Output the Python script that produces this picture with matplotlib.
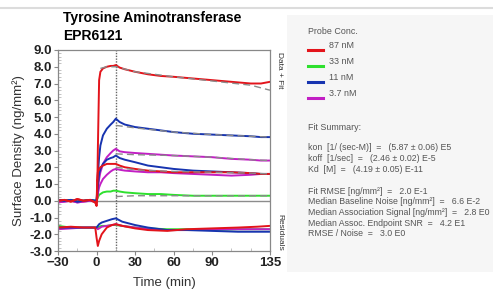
import matplotlib.pyplot as plt
from matplotlib.lines import Line2D
from matplotlib.patches import Rectangle
from matplotlib.ticker import MultipleLocator

plt.rcParams['font.family'] = ['Liberation Sans', 'DejaVu Sans']

# ---- data (time in min, surface density in ng/mm2)
t_base = [-30, -25, -20, -15, -10, -5, -1, 0]
t_run = [0.5, 1, 2, 3, 5, 8, 11, 13, 15, 18, 22, 30, 40, 50, 60, 75, 90, 105, 120, 128, 135]

red_hi = [0.2, 3.0, 7.2, 7.7, 7.9, 8.0, 8.05, 8.05, 8.1, 7.95, 7.85, 7.7, 7.55, 7.45, 7.4, 7.3, 7.2, 7.1, 7.0, 7.0, 7.1]
red_lo = [1.2, 1.7, 1.9, 2.0, 2.1, 2.2, 2.2, 2.2, 2.2, 2.1, 2.0, 1.9, 1.8, 1.75, 1.7, 1.7, 1.7, 1.7, 1.65, 1.6, 1.6]
blue_hi = [0.6, 1.5, 2.6, 3.3, 3.9, 4.3, 4.55, 4.7, 4.9, 4.7, 4.55, 4.4, 4.3, 4.2, 4.1, 4.0, 3.95, 3.9, 3.85, 3.8, 3.8]
blue_lo = [0.4, 0.9, 1.6, 1.9, 2.2, 2.45, 2.55, 2.6, 2.7, 2.55, 2.45, 2.3, 2.1, 2.0, 1.9, 1.8, 1.75, 1.7, 1.65, 1.6, 1.6]
mag_hi = [0.3, 0.7, 1.3, 1.7, 2.2, 2.6, 2.85, 3.0, 3.1, 2.95, 2.9, 2.85, 2.8, 2.75, 2.7, 2.65, 2.6, 2.5, 2.45, 2.4, 2.4]
mag_lo = [0.2, 0.4, 0.8, 1.0, 1.3, 1.55, 1.75, 1.85, 1.9, 1.85, 1.8, 1.75, 1.7, 1.7, 1.65, 1.6, 1.55, 1.5, 1.55, 1.6, 1.6]
green = [0.1, 0.2, 0.35, 0.4, 0.5, 0.55, 0.55, 0.6, 0.6, 0.55, 0.5, 0.45, 0.4, 0.4, 0.35, 0.3, 0.3, 0.3, 0.3, 0.3, 0.3]

base_red = [0.0, 0.05, -0.05, 0.1, 0.0, 0.05, -0.1, -0.3]
base_other = [0.05, 0.0, 0.05, -0.05, 0.0, 0.05, 0.0, 0.0]
base_mag = [-0.1, -0.05, 0.0, -0.1, -0.05, 0.0, -0.05, -0.1]

# fits (dashed)
t_fit = [3, 8, 15, 30, 60, 90, 120, 135]
fit_red = [7.9, 8.0, 8.0, 7.7, 7.4, 7.15, 6.9, 6.6]
t_fit2 = [15, 30, 60, 90, 120, 135]
fit_blue = [4.5, 4.35, 4.1, 3.95, 3.85, 3.8]
fit_mag = [2.8, 2.75, 2.7, 2.6, 2.45, 2.4]
fit_other = [2.0, 1.85, 1.75, 1.7, 1.65, 1.6]
fit_green = [0.25, 0.3, 0.3, 0.3, 0.3, 0.3]

# residuals (offset below zero)
t_res = [-30, -20, -10, -1, 0, 1, 2, 4, 8, 12, 15, 20, 30, 40, 55, 70, 90, 110, 125, 135]
res_blue = [-1.6, -1.6, -1.6, -1.6, -1.6, -1.5, -1.4, -1.3, -1.2, -1.1, -1.05, -1.25, -1.45, -1.6, -1.75, -1.75, -1.8, -1.85, -1.85, -1.85]
res_red = [-1.6, -1.55, -1.6, -1.6, -2.2, -2.7, -2.4, -2.0, -1.6, -1.45, -1.4, -1.5, -1.65, -1.75, -1.8, -1.7, -1.65, -1.6, -1.55, -1.5]
res_green = [-1.5, -1.6, -1.6, -1.6, -1.6, -1.6, -1.55, -1.5, -1.5, -1.45, -1.45, -1.5, -1.6, -1.65, -1.7, -1.7, -1.75, -1.7, -1.7, -1.7]
res_mag = [-1.7, -1.65, -1.6, -1.6, -1.6, -1.7, -1.65, -1.55, -1.5, -1.45, -1.4, -1.5, -1.6, -1.7, -1.75, -1.75, -1.7, -1.7, -1.7, -1.7]

conc_labels = ['87 nM', '33 nM', '11 nM', '3.7 nM']
RED, GREEN, BLUE, MAG = '#e3141b', '#2ee02e', '#1734b0', '#c21fc4'
conc_colors = [RED, GREEN, BLUE, MAG]

fit_lines = ['kon  [1/ (sec-M)]  =   (5.87 \u00b1 0.06) E5',
             'koff  [1/sec]  =   (2.46 \u00b1 0.02) E-5',
             'Kd  [M]  =   (4.19 \u00b1 0.05) E-11']
stat_lines = ['Fit RMSE [ng/mm\u00b2]  =   2.0 E-1',
              'Median Baseline Noise [ng/mm\u00b2]  =   6.6 E-2',
              'Median Association Signal [ng/mm\u00b2]  =   2.8 E0',
              'Median Assoc. Endpoint SNR  =   4.2 E1',
              'RMSE / Noise  =   3.0 E0']

W, H = 493, 295
fig = plt.figure(figsize=(W / 100, H / 100), dpi=100)
fig.patch.set_facecolor('white')

# top separator
fig.add_artist(Line2D([0, 1], [1 - 8 / H, 1 - 8 / H], color='#dcdcdc', lw=1.5))
# right panel background
fig.add_artist(Rectangle((287 / W, 1 - 272 / H), (W - 287) / W, (272 - 15) / H,
                         facecolor='#f6f6f6', edgecolor='none', transform=fig.transFigure))

ax = fig.add_axes([58 / W, 1 - 251 / H, 212 / W, 201 / H])

def seg(tb, base, y, c):
    ax.plot(tb + [t_run[0]], base + [y[0]], color=c, lw=1.4)
    ax.plot(t_run, y, color=c, lw=1.4)

seg(t_base, base_other, green, GREEN)
seg(t_base, base_mag, mag_lo, MAG)
seg(t_base, base_mag, mag_hi, MAG)
seg(t_base, base_other, blue_lo, BLUE)
seg(t_base, base_other, blue_hi, BLUE)
seg(t_base, base_red, red_lo, RED)
seg(t_base, base_red, red_hi, RED)

dash = dict(color='#8a8a8a', lw=1.0, ls=(0, (5, 3)))
ax.plot(t_fit, fit_red, **dash)
ax.plot(t_fit2, fit_blue, **dash)
ax.plot(t_fit2, fit_mag, **dash)
ax.plot(t_fit2, fit_other, **dash)
ax.plot(t_fit2, fit_green, **dash)

ax.plot(t_res, res_green, color=GREEN, lw=1.4)
ax.plot(t_res, res_mag, color=MAG, lw=1.4)
ax.plot(t_res, res_blue, color=BLUE, lw=1.4)
ax.plot(t_res, res_red, color=RED, lw=1.4)

ax.axhline(0, color='#8c8c8c', lw=1.0, zorder=0)
ax.axvline(15, color='#666666', lw=1.0, ls=(0, (1, 1)), zorder=0)

ax.set_xlim(-30, 135)
ax.set_ylim(-3, 9)
ax.set_xticks([-30, 0, 30, 60, 90, 135])
ax.set_yticks(range(-3, 10))
ax.set_yticklabels(['%.1f' % v for v in range(-3, 10)])
ax.xaxis.set_minor_locator(MultipleLocator(15))
ax.yaxis.set_minor_locator(MultipleLocator(0.2))
ax.tick_params(which='major', length=3, width=0.8, color='#888888', labelsize=9.5, pad=1)
ax.tick_params(which='minor', direction='in', length=2, width=0.5, color='#aaaaaa')
for lab in ax.get_xticklabels() + ax.get_yticklabels():
    lab.set_fontweight('bold')
    lab.set_color('#222222')
for s in ax.spines.values():
    s.set_color('#888888')
    s.set_linewidth(0.9)

ax.set_xlabel('Time (min)', fontsize=9.5, color='#333333', labelpad=6)
ax.set_ylabel('Surface Density (ng/mm\u00b2)', fontsize=9.5, color='#333333', labelpad=3)

fig.text(63 / W, 1 - 27 / H, 'Tyrosine Aminotransferase\nEPR6121', fontsize=10,
         fontweight='bold', ha='left', va='center', linespacing=1.3)

fig.text(280 / W, 1 - 52 / H, 'Data + Fit', rotation=-90, fontsize=6,
         color='#333333', ha='center', va='top')
fig.text(280 / W, 1 - 214 / H, 'Residuals', rotation=-90, fontsize=6,
         color='#333333', ha='center', va='top')

# right panel: legend + fit summary
tc = '#555555'
fig.text(308 / W, 1 - 32 / H, 'Probe Conc.', fontsize=6.4, color=tc, va='center')
for i, (lab, c) in enumerate(zip(conc_labels, conc_colors)):
    y = 1 - (48 + 16 * i) / H
    fig.add_artist(Line2D([308 / W, 323 / W], [y - 1.5 / H, y - 1.5 / H], color=c, lw=2.2))
    fig.text(329 / W, y + 2 / H, lab, fontsize=6.4, color=tc, va='center')
fig.text(308 / W, 1 - 127 / H, 'Fit Summary:', fontsize=6.4, color=tc, va='center')
for i, s in enumerate(fit_lines):
    fig.text(308 / W, 1 - (148 + 10.5 * i) / H, s, fontsize=6.3, color=tc, va='center')
for i, s in enumerate(stat_lines):
    fig.text(308 / W, 1 - (191 + 10.7 * i) / H, s, fontsize=6.3, color=tc, va='center')

fig.savefig('out.png', dpi=100)
